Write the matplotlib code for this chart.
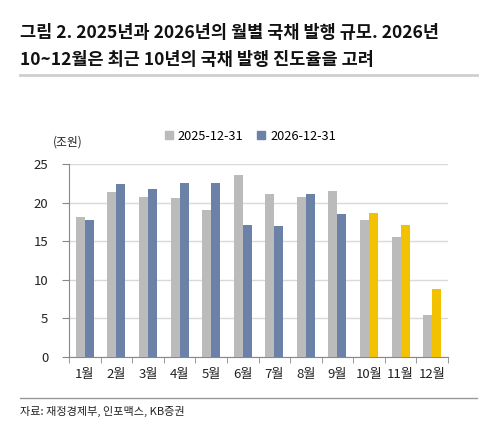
import matplotlib
matplotlib.use("Agg")
import matplotlib.pyplot as plt
import numpy as np
from matplotlib.lines import Line2D
from matplotlib.patches import Patch

plt.rcParams['font.family'] = ['Noto Sans CJK KR', 'DejaVu Sans']

months = ["1월", "2월", "3월", "4월", "5월", "6월", "7월", "8월", "9월", "10월", "11월", "12월"]
s2025 = [18.1, 21.4, 20.7, 20.6, 19.05, 23.6, 21.1, 20.7, 21.5, 17.7, 15.5, 5.4]
s2026 = [17.8, 22.4, 21.7, 22.6, 22.6, 17.1, 17.0, 21.1, 18.5, 18.7, 17.1, 8.8]
projected = [False] * 9 + [True] * 3
legend_labels = ["2025-12-31", "2026-12-31"]
yticks = [0, 5, 10, 15, 20, 25]

C_GRAY = "#BBBBBB"
C_BLUE = "#6B81A8"
C_YEL = "#F2C200"

W, H = 491, 425
fig = plt.figure(figsize=(W / 100, H / 100), dpi=100)

def fx(px):
    return px / W

def fy(py):
    return 1 - py / H

# Title
fig.text(fx(20), fy(33), "그림 2. 2025년과 2026년의 월별 국채 발행 규모. 2026년",
         fontsize=12.6, fontweight='bold', va='center', ha='left', color="#111111")
fig.text(fx(20), fy(60), "10~12월은 최근 10년의 국채 발행 진도율을 고려",
         fontsize=12.6, fontweight='bold', va='center', ha='left', color="#111111")
fig.add_artist(Line2D([fx(20), fx(477)], [fy(75), fy(75)], color="#CFCFCF", lw=2,
                      transform=fig.transFigure))

# Axes
left, right, top, bottom = 69, 448, 164, 357
ax = fig.add_axes([fx(left), fy(bottom), fx(right - left), (bottom - top) / H])
x = np.arange(len(months))
bw = 0.285
ax.bar(x - bw / 2, s2025, width=bw, color=C_GRAY, zorder=3)
colors26 = [C_YEL if p else C_BLUE for p in projected]
ax.bar(x + bw / 2, s2026, width=bw, color=colors26, zorder=3)

ax.set_xlim(-0.5, len(months) - 0.5)
ax.set_ylim(0, 25)
ax.set_yticks(yticks)
ax.set_yticklabels([str(v) for v in yticks], fontsize=9.5, color="#222222")
ax.yaxis.grid(True, color="#D9D9D9", lw=1, zorder=0)
ax.set_xticks(x)
ax.set_xticklabels(months, fontsize=9.5, color="#222222")
ax.set_xticks(np.arange(-0.5, len(months)), minor=True)
ax.tick_params(axis='x', which='major', length=0, pad=8)
ax.tick_params(axis='x', which='minor', length=4, color="#888888", direction='out')
ax.tick_params(axis='y', length=5, color="#888888", direction='out', pad=10)
for s in ['top', 'right']:
    ax.spines[s].set_visible(False)
ax.spines['left'].set_color("#888888")
ax.spines['bottom'].set_color("#888888")

# unit label
fig.text(fx(53), fy(142), "(조원)", fontsize=8.5, va='center', ha='left', color="#222222")

# Legend
handles = [Patch(color=C_GRAY), Patch(color=C_BLUE)]
fig.legend(handles, legend_labels, loc='center', bbox_to_anchor=(fx(250.5), fy(136)),
           ncol=2, frameon=False, fontsize=9.2, handlelength=0.6, handleheight=0.6,
           handletextpad=0.4, columnspacing=1.1)

# Bottom line and source
fig.add_artist(Line2D([fx(20), fx(477)], [fy(398), fy(398)], color="#999999", lw=1,
                      transform=fig.transFigure))
fig.text(fx(20), fy(411), "자료: 재정경제부, 인포맥스, KB증권", fontsize=8,
         va='center', ha='left', color="#222222")

fig.savefig("out.png", dpi=100, facecolor="white")
